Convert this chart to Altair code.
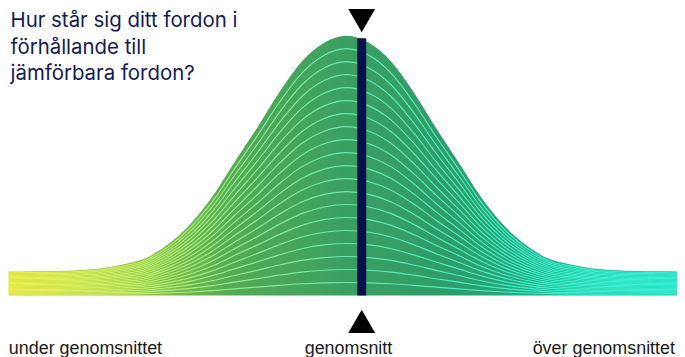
import altair as alt
import pandas as pd

# Bell curve: standardised score and relative frequency (1 = peak)
score = [-3.77, -3.5, -3.25, -3.0, -2.75, -2.5, -2.25, -2.0, -1.75, -1.5, -1.25, -1.0, -0.75, -0.5, -0.25, 0.0,
         0.25, 0.5, 0.75, 1.0, 1.25, 1.5, 1.75, 2.0, 2.25, 2.5, 2.75, 3.0, 3.25, 3.5, 3.69]
freq = [0.092, 0.093, 0.094, 0.097, 0.104, 0.119, 0.142, 0.195, 0.272, 0.379, 0.513, 0.644, 0.782, 0.900, 0.973, 1.0,
        0.973, 0.900, 0.782, 0.644, 0.513, 0.379, 0.272, 0.195, 0.142, 0.119, 0.104, 0.097, 0.094, 0.093, 0.092]

# Your vehicle
vehicle_score = [0.17]
vehicle_freq = [0.99]

n_bands = 20

title_lines = ["Hur står sig ditt fordon i", "förhållande till", "jämförbara fordon?"]
bottom_labels = ["under genomsnittet", "genomsnitt", "över genomsnittet"]

curve = pd.DataFrame({"score": score, "freq": freq})
contours = pd.DataFrame(
    [{"score": s, "freq": f * k / n_bands, "band": k}
     for k in range(1, n_bands) for s, f in zip(score, freq)]
)
vehicle = pd.DataFrame({"score": vehicle_score, "freq": vehicle_freq})

xs = alt.Scale(domain=[-4, 4], range=[-20, 700])
ys = alt.Scale(domain=[0, 1], range=[288, 27])

fill_stops = [(0.0, "#bfd232"), (0.18, "#94c744"), (0.33, "#56ab55"), (0.5, "#3aa061"),
              (0.66, "#2d9c6a"), (0.79, "#23ab84"), (1.0, "#1bbf9f")]
line_stops = [(0.0, "#eef04e"), (0.18, "#c8ee68"), (0.33, "#94ee8a"), (0.5, "#6ae8a8"),
              (0.66, "#50ecbc"), (0.8, "#3cf0cc"), (1.0, "#34f0d6")]

fill_grad = alt.LinearGradient(gradient="linear", x1=0, x2=1, y1=0, y2=0,
                               stops=[alt.GradientStop(offset=o, color=c) for o, c in fill_stops])
line_grad = alt.LinearGradient(gradient="linear", x1=0, x2=1, y1=0, y2=0,
                               stops=[alt.GradientStop(offset=o, color=c) for o, c in line_stops])

area = alt.Chart(curve).mark_area(interpolate="monotone", fill=fill_grad).encode(
    x=alt.X("score:Q", scale=xs, axis=None),
    y=alt.Y("freq:Q", scale=ys, axis=None),
)

lines = alt.Chart(contours).mark_line(interpolate="monotone", stroke=line_grad, strokeWidth=1.15).encode(
    x=alt.X("score:Q", scale=xs, axis=None),
    y=alt.Y("freq:Q", scale=ys, axis=None),
    detail="band:N",
)

bar = alt.Chart(vehicle).mark_rule(color="#0a0f4e", strokeWidth=9, strokeCap="butt").encode(
    x=alt.X("score:Q", scale=xs, axis=None),
    y=alt.Y("freq:Q", scale=ys, axis=None),
    y2=alt.datum(0),
)

tri_top = alt.Chart(vehicle).mark_point(shape="triangle-down", size=729, filled=True, color="#000000", opacity=1).encode(
    x=alt.X("score:Q", scale=xs, axis=None),
    y=alt.value(12),
)
tri_bot = alt.Chart(vehicle).mark_point(shape="triangle-up", size=729, filled=True, color="#000000", opacity=1).encode(
    x=alt.X("score:Q", scale=xs, axis=None),
    y=alt.value(314),
)

layers = [area, lines, bar, tri_top, tri_bot]

for i, line in enumerate(title_lines):
    layers.append(
        alt.Chart(pd.DataFrame({"t": [line]})).mark_text(
            font="Inter", fontSize=20.5, color="#151a55", align="left", baseline="alphabetic"
        ).encode(text="t:N", x=alt.value(2.5), y=alt.value(18.7 + i * 26.65))
    )

label_pos = [(0.8, "left"), (342, "center"), (670, "right")]
for lab, (px, al) in zip(bottom_labels, label_pos):
    layers.append(
        alt.Chart(pd.DataFrame({"t": [lab]})).mark_text(
            font="Liberation Sans", fontSize=18, color="#1a1a1a", align=al, baseline="alphabetic"
        ).encode(text="t:N", x=alt.value(px), y=alt.value(346.3))
    )

chart = alt.layer(*layers).properties(
    width=672, height=349, padding=0, autosize=alt.AutoSizeParams(type="none")
).configure_view(stroke=None)

chart.save("out.html", embed_options={"renderer": "svg", "actions": False})
